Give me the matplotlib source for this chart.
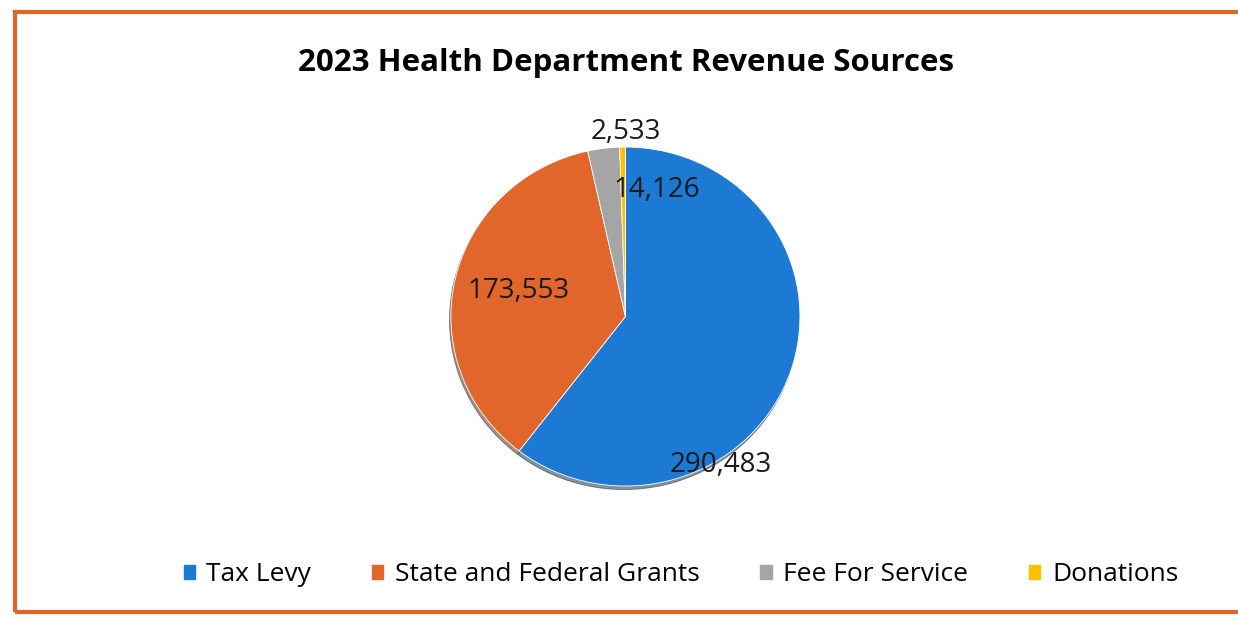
import matplotlib.pyplot as plt
import matplotlib.patches as mpatches
import numpy as np

plt.rcParams['font.family'] = ['Open Sans', 'DejaVu Sans']

labels = ["Tax Levy", "State and Federal Grants", "Fee For Service", "Donations"]
values = [290483, 173553, 14126, 2533]
colors = ["#1C7AD4", "#E0662C", "#A5A5A5", "#FFC000"]
value_text = ["290,483", "173,553", "14,126", "2,533"]
# where each value label sits (radius factor, angle in degrees)
label_pos = [(1.03, -58), (0.63, 166), (0.77, 76.5), (1.09, 90)]

fig = plt.figure(figsize=(12.38, 6.2), dpi=100)
ax = fig.add_axes([0.3614, 0.2106, 0.2876, 0.5577])

wedges, _ = ax.pie(values, colors=colors, startangle=90, counterclock=False,
                   wedgeprops=dict(edgecolor="white", linewidth=0.6),
                   shadow={'ox': -0.006, 'oy': -0.015, 'shade': 0.7})
ax.set_aspect("auto")
ax.set_xlim(-1.02, 1.02)
ax.set_ylim(-1.02, 1.02)

for txt, (r, a) in zip(value_text, label_pos):
    ax.text(r * np.cos(np.radians(a)), r * np.sin(np.radians(a)), txt,
            ha="center", va="center", fontsize=20, color="#1a1a1a")

fig.text(0.506, 0.899, "2023 Health Department Revenue Sources",
         ha="center", va="center", fontsize=22.5, fontweight="bold", color="black")

handles = [mpatches.Patch(color=c, label=l) for c, l in zip(colors, labels)]
fig.legend(handles=handles, loc="center", bbox_to_anchor=(0.550, 0.073), ncol=4,
           frameon=False, fontsize=19, handlelength=0.42, handleheight=0.42,
           handletextpad=0.45, columnspacing=2.3)

border = mpatches.Rectangle((0.012, 0.013), 0.99, 0.968, transform=fig.transFigure,
                            fill=False, edgecolor="#E0662C", linewidth=3)
fig.patches.append(border)

plt.savefig("out.png")
